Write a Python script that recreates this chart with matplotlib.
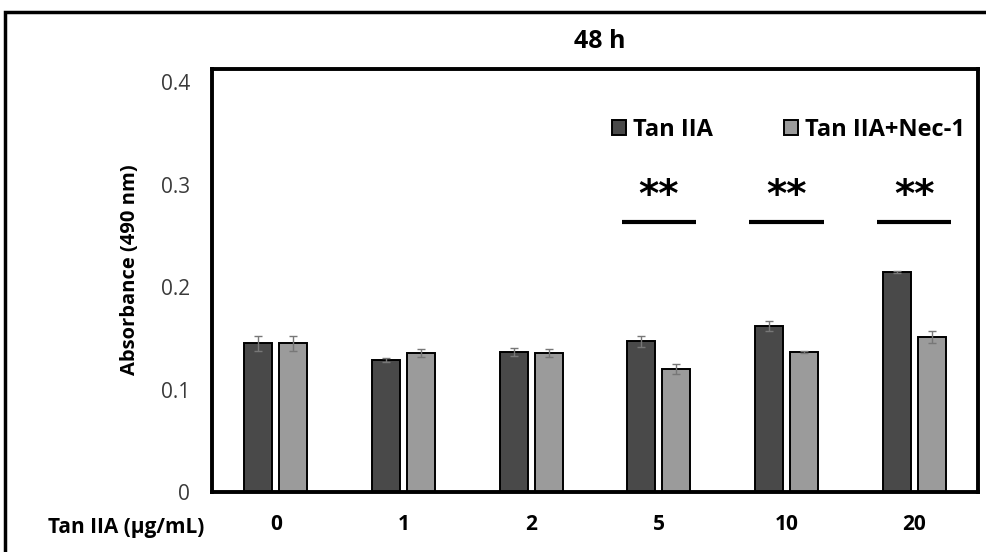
import numpy as np
import matplotlib.pyplot as plt
from matplotlib.patches import Rectangle

doses = ["0", "1", "2", "5", "10", "20"]
tan = [0.145, 0.129, 0.137, 0.147, 0.162, 0.215]
tan_err = [0.007, 0.002, 0.004, 0.005, 0.005, 0.001]
nec = [0.145, 0.136, 0.136, 0.120, 0.137, 0.151]
nec_err = [0.007, 0.004, 0.004, 0.005, 0.001, 0.006]
sig_groups = [3, 4, 5]
sig_y = 0.264

plt.rcParams['font.family'] = ['Open Sans', 'DejaVu Sans']

fig = plt.figure(figsize=(9.86, 5.52), dpi=100)
ax = fig.add_axes([212/986, 1-492/552, 766/986, 423/552])

x = np.arange(len(doses))
w = 0.22
off = 0.137
ax.bar(x - off, tan, w, yerr=tan_err, color='#494949', edgecolor='black',
       linewidth=1.4, error_kw=dict(ecolor='#777777', elinewidth=1, capsize=3),
       label='Tan IIA', zorder=2)
ax.bar(x + off, nec, w, yerr=nec_err, color='#9b9b9b', edgecolor='black',
       linewidth=1.4, error_kw=dict(ecolor='#777777', elinewidth=1, capsize=3),
       label='Tan IIA+Nec-1', zorder=2)

for g in sig_groups:
    ax.plot([g - 0.29, g + 0.29], [sig_y, sig_y], color='black', lw=3,
            solid_capstyle='butt')
    ax.text(g, sig_y + 0.006, '**', ha='center', va='bottom', fontsize=28,
            fontweight='bold', family='DejaVu Sans')

ax.set_xlim(-0.5, len(doses) - 0.5)
ax.set_ylim(0, 0.413)
ax.set_yticks([0, 0.1, 0.2, 0.3, 0.4])
ax.set_yticklabels(['0', '0.1', '0.2', '0.3', '0.4'], fontsize=15, color='#3a3a3a')
ax.set_xticks(x)
ax.set_xticklabels(doses, fontsize=15, fontweight='bold')
ax.tick_params(length=0)
ax.tick_params(axis='x', pad=16)
ax.tick_params(axis='y', pad=16)
for s in ax.spines.values():
    s.set_linewidth(2.8)
    s.set_color('black')

ax.set_ylabel('Absorbance (490 nm)', fontsize=14.5, fontweight='bold')
ax.yaxis.set_label_coords(-0.094, 0.525)
fig.text(126/986, 1-527/552, 'Tan IIA (\u00b5g/mL)', fontsize=15, fontweight='bold',
         ha='center', va='center')
fig.text(600/986, 1-42/552, '48 h', fontsize=18, fontweight='bold',
         ha='center', va='center')

ax.legend(loc='center left', bbox_to_anchor=((600-212)/766, (492-130)/423), ncol=2,
          frameon=False, prop=dict(size=17, weight='bold'), handlelength=0.6,
          handleheight=0.6, columnspacing=3.0, handletextpad=0.3, borderpad=0)

fig.patches.append(Rectangle((5/986, -0.1), 1.2, 1 - 12/552 + 0.1,
                             transform=fig.transFigure, fill=False,
                             edgecolor='black', linewidth=2.5))

fig.savefig('out.png', dpi=100)
